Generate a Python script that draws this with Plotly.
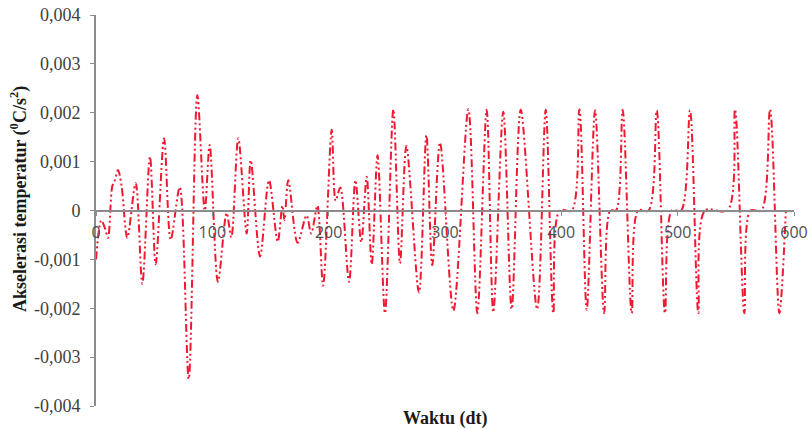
import plotly.graph_objects as go

# Time (s) and temperature acceleration (×1e-3 °C/s²)
waktu = [0, 4.5, 7.5, 10.3, 14, 16, 18.9, 22, 26.9, 34.1, 39.8, 46.4, 51.3, 58.5, 64.2, 72,
         79.7, 87.1, 93.5, 97.7, 104.8, 112.3, 116.3, 122.3, 129.5, 133, 141, 148.7, 156.2,
         160.2, 162, 165.3, 173.3, 181, 185, 190.3, 195.2, 202.6, 206, 210, 217.5, 223, 228,
         232.7, 237, 242, 248.4, 255.6, 261.3, 266.8, 277.6, 284, 289, 295.7, 307.2, 320.1,
         327.8, 335.8, 341.5, 350.1, 357.3, 365.1, 379.2, 386.6, 393.1, 398.5, 409, 415.5,
         421.8, 429, 436.8, 442, 447, 452.7, 460.5, 466, 475, 482, 489.1, 495, 503, 510.6,
         517.8, 523.5, 543, 549.3, 557.3, 562.5, 572, 579.4, 587.4, 593]
akselerasi_e3 = [-1.0, -0.2, -0.35, -0.56, 0.5, 0.6, 0.83, 0.5, -0.56, 0.56, -1.5, 1.1, -1.1,
                 1.48, -0.6, 0.48, -3.45, 2.36, 0.0, 1.34, -1.46, -0.05, -0.55, 1.48, -0.47,
                 1.03, -0.94, 0.62, -0.64, 0.1, -0.2, 0.62, -0.66, -0.1, -0.47, 0.1, -1.54,
                 1.65, 0.2, 0.47, -1.46, 0.62, -0.65, 0.69, -1.1, 1.13, -2.1, 2.07, -1.08,
                 1.32, -1.68, 1.54, -1.12, 1.39, -2.05, 2.07, -2.1, 2.06, -2.08, 2.02, -2.02,
                 2.06, -2.02, 2.06, -2.1, 0, 0, 2.07, -2.03, 2.05, -2.1, 0, 0, 2.06, -2.1, 0,
                 0, 2.05, -2.1, 0, 0, 2.05, -2.1, 0, 0, 2.07, -2.1, 0, 0, 2.07, -2.1, 0]

y_ticks = [-0.004, -0.003, -0.002, -0.001, 0, 0.001, 0.002, 0.003, 0.004]
y_ticktext = ["-0,004", "-0,003", "-0,002", "-0,001", "0", "0,001", "0,002", "0,003", "0,004"]
x_ticks = [0, 100, 200, 300, 400, 500, 600]

akselerasi = [v / 1000 for v in akselerasi_e3]

fig = go.Figure()
fig.add_trace(go.Scatter(
    x=waktu, y=akselerasi, mode="lines",
    line=dict(color="rgb(240,25,50)", width=2, dash="8px,3px,2px,3px,2px,3px",
              shape="spline", smoothing=0.9),
    showlegend=False,
))

fig.update_layout(
    width=809, height=429,
    margin=dict(l=96, r=15, t=15, b=23),
    paper_bgcolor="white", plot_bgcolor="white",
    xaxis=dict(
        range=[0, 600], tickvals=x_ticks, showgrid=False, zeroline=False,
        showline=True, linecolor="#8c8c8c", linewidth=2,
        ticks="outside", ticklen=4, tickcolor="#8c8c8c",
        anchor="free", position=0.5, automargin=False, ticklabeloverflow="allow",
        ticklabelstandoff=3,
        tickfont=dict(family="Open Sans, Liberation Sans, sans-serif", size=16, color="#505050"),
    ),
    yaxis=dict(
        range=[-0.004, 0.004], tickvals=y_ticks, ticktext=y_ticktext,
        showgrid=False, zeroline=False, automargin=False, ticklabeloverflow="allow",
        ticklabelstandoff=6,
        showline=True, linecolor="#8c8c8c", linewidth=2,
        ticks="outside", ticklen=4, tickcolor="#8c8c8c",
        tickfont=dict(family="Liberation Serif, Times New Roman, serif", size=18, color="#404040"),
    ),
    annotations=[
        dict(text="<b>Waktu (dt)</b>", xref="paper", yref="paper",
             x=(445 - 96) / 698, y=(406 - 418) / 391, xanchor="center", yanchor="middle",
             showarrow=False,
             font=dict(family="Liberation Serif, Times New Roman, serif", size=18, color="#1a1a1a")),
        dict(text="<b>Akselerasi temperatur (<sup>0</sup>C/s<sup>2</sup>)</b>",
             xref="paper", yref="paper",
             x=(19 - 96) / 698, y=(406 - 199) / 391, xanchor="center", yanchor="middle",
             textangle=-90, showarrow=False,
             font=dict(family="Liberation Serif, Times New Roman, serif", size=18, color="#1a1a1a")),
    ],
)

fig.write_html("out.html", config={"displayModeBar": False},
               post_script="document.body.style.margin='0px';document.body.style.overflow='hidden';")
